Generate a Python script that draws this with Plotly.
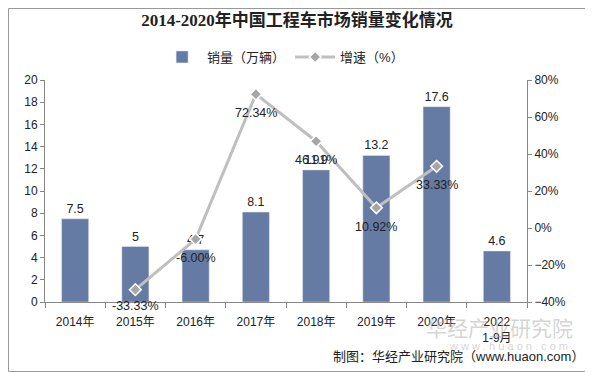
import plotly.graph_objects as go

categories = ["2014年", "2015年", "2016年", "2017年", "2018年", "2019年", "2020年", "2022<br>1-9月"]
sales = [7.5, 5, 4.7, 8.1, 11.9, 13.2, 17.6, 4.6]
growth = [None, -33.33, -6.00, 72.34, 46.91, 10.92, 33.33, None]
growth_labels = ["" if g is None else f"{g:.2f}%" for g in growth]

font_fam = "Arial, Liberation Sans, Noto Sans CJK SC"

W, H = 585, 364
L, R, T, B = 37, 66, 72, 70
PW, PH = W - L - R, H - T - B

fig = go.Figure()
fig.add_trace(go.Bar(
    x=categories, y=sales, name="销量（万辆）",
    marker=dict(color="#667BA3"),
    width=0.45,
    text=[str(v) for v in sales], textposition="outside",
    textfont=dict(size=12.5, color="#222"),
    cliponaxis=False,
))
fig.add_trace(go.Scatter(
    x=categories, y=growth, name="增速（%）", yaxis="y2",
    mode="lines+markers",
    line=dict(color="#BFBFBF", width=3),
    marker=dict(symbol="diamond", size=9, color="#A6A6A6", line=dict(color="white", width=1.5)),
    connectgaps=False,
    cliponaxis=False,
))

annotations = []
for c, g, t in zip(categories, growth, growth_labels):
    if g is None:
        continue
    annotations.append(dict(x=c, y=g, xref="x", yref="y2", text=t, showarrow=False,
                            yshift=-16 if g < -30 else -19, xanchor="center", yanchor="middle",
                            font=dict(size=12.5, color="#222")))

annotations += [
    dict(text="华经产业研究院", xref="paper", yref="paper", x=1.10, y=-0.12,
         xanchor="right", yanchor="middle", showarrow=False,
         font=dict(size=21, color="rgba(170,170,170,0.5)")),
    dict(text="w w w . h u a o n . c o m", xref="paper", yref="paper", x=1.089, y=-0.2,
         xanchor="right", yanchor="middle", showarrow=False,
         font=dict(size=11, color="rgba(170,170,170,0.5)")),
    dict(text="制图：华经产业研究院（www.huaon.com）", xref="paper", yref="paper",
         x=1.122, y=-0.245, xanchor="right", yanchor="middle", showarrow=False,
         font=dict(size=13, color="#222")),
]

fig.update_layout(
    width=W, height=H,
    margin=dict(l=L, r=R, t=T, b=B, autoexpand=False),
    paper_bgcolor="white", plot_bgcolor="white",
    font=dict(family=font_fam, size=12, color="#222"),
    title=dict(text="<b>2014-2020年中国工程车市场销量变化情况</b>",
               x=0.494, xanchor="center", y=1 - 12 / H, yanchor="middle",
               font=dict(family="Liberation Serif, Noto Sans CJK SC", size=17, color="#222")),
    legend=dict(orientation="h", x=0.494, xanchor="center", y=1 - 49 / H, yanchor="middle",
                yref="container",
                font=dict(size=13, color="#222"), itemwidth=40),
    bargap=0.55,
    xaxis=dict(showline=True, linecolor="#888", ticks="outside", tickcolor="#888",
               ticklen=5, ticklabelstandoff=9, tickfont=dict(size=12, color="#222"),
               showgrid=False, tickson="boundaries", automargin=False),
    yaxis=dict(range=[0, 20], dtick=2, showline=True, linecolor="#888", ticks="outside",
               tickcolor="#888", ticklen=4, showgrid=False, zeroline=False,
               tickfont=dict(size=12, color="#222"), automargin=False),
    yaxis2=dict(range=[-40, 80], dtick=20, overlaying="y", side="right", showline=True,
                linecolor="#888", ticks="outside", tickcolor="#888", ticklen=4,
                ticksuffix="%", showgrid=False, zeroline=False,
                tickfont=dict(size=12, color="#222"), automargin=False),
    shapes=[dict(type="rect", xref="paper", yref="paper",
                 x0=(-L + 0.5) / PW, x1=1 + (R - 0.5) / PW,
                 y0=-(B - 0.5) / PH, y1=1 + (T - 0.5) / PH,
                 line=dict(color="#999", width=1))],
    annotations=annotations,
)

fig.write_html("out.html")
